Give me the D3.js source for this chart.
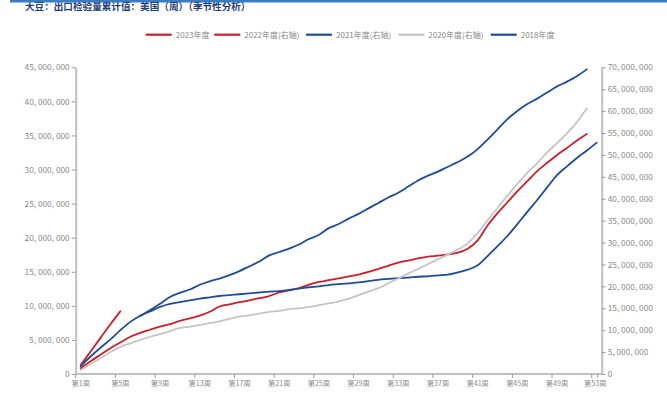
<!DOCTYPE html>
<html>
<head>
<meta charset="utf-8">
<script src="https://cdn.jsdelivr.net/npm/d3@7"></script>
<style>
  html, body { margin: 0; padding: 0; background: #fff; }
  svg { display: block; font-family: "Noto Sans CJK SC", "Noto Sans", sans-serif; }
</style>
</head>
<body>
<svg id="chart" width="667" height="394"></svg>
<script>
// Weekly cumulative soybean export inspections, US (million tonnes)
const weeks = d3.range(1, 54);
const weekLabels = weeks.map(w => "第" + w + "周");

// left axis series
const s2023 = [1.3, 3.3, 5.3, 7.3, 9.2];
const s2018Start = 7;
const s2018 = [8.5, 9.4, 10.3, 11.3, 11.9, 12.4, 13.1, 13.6, 14.0, 14.5, 15.1, 15.8, 16.5, 17.4,
  17.9, 18.4, 19.0, 19.8, 20.4, 21.4, 22.0, 22.8, 23.5, 24.3, 25.1, 25.9, 26.6, 27.5, 28.4,
  29.1, 29.7, 30.4, 31.1, 31.9, 33.0, 34.4, 35.9, 37.4, 38.6, 39.6, 40.4, 41.3, 42.2, 42.9,
  43.7, 44.7];

// right axis series
const s2022 = [1.3, 2.9, 4.4, 5.9, 7.2, 8.5, 9.4, 10.1, 10.8, 11.4, 12.1, 12.7, 13.3, 14.2, 15.4,
  15.9, 16.4, 16.8, 17.3, 17.8, 18.6, 19.1, 19.6, 20.4, 21.0, 21.4, 21.8, 22.3, 22.7, 23.3,
  24.0, 24.7, 25.4, 25.9, 26.4, 26.8, 27.0, 27.3, 27.7, 28.6, 30.5, 33.9, 36.7, 39.2, 41.7,
  44.0, 46.3, 48.2, 50.0, 51.6, 53.3, 54.8];
const s2021 = [1.8, 4.0, 6.0, 7.9, 10.0, 11.9, 13.3, 14.3, 15.3, 16.0, 16.4, 16.8, 17.2, 17.5,
  17.8, 18.0, 18.2, 18.4, 18.6, 18.8, 18.9, 19.2, 19.5, 19.8, 20.0, 20.3, 20.5, 20.7, 20.9,
  21.2, 21.5, 21.7, 21.9, 22.0, 22.2, 22.3, 22.5, 22.7, 23.2, 23.8, 24.8, 26.9, 29.2, 31.5,
  34.2, 37.0, 39.7, 42.6, 45.4, 47.4, 49.3, 51.0, 52.8];
const s2020 = [0.9, 2.3, 3.6, 5.0, 6.2, 7.0, 7.8, 8.5, 9.1, 9.8, 10.5, 10.8, 11.2, 11.6, 12.0,
  12.6, 13.1, 13.4, 13.8, 14.2, 14.4, 14.8, 15.0, 15.3, 15.7, 16.1, 16.6, 17.2, 18.0, 18.8,
  19.6, 20.7, 21.8, 22.9, 24.0, 25.1, 26.2, 27.3, 28.4, 29.8, 32.2, 35.1, 37.9, 40.7, 43.4,
  45.9, 48.1, 50.6, 52.7, 54.9, 57.5, 60.6];

const leftTicks = d3.range(0, 46, 5);
const rightTicks = d3.range(0, 71, 5);

const RED = "#c8202b", BLUE = "#1f4c97", GRAY = "#c4c4c4";

const series = [
  { name: "2023年度", values: s2023, start: 1, axis: "L", color: RED },
  { name: "2022年度(右轴)", values: s2022, start: 1, axis: "R", color: RED },
  { name: "2021年度(右轴)", values: s2021, start: 1, axis: "R", color: BLUE },
  { name: "2020年度(右轴)", values: s2020, start: 1, axis: "R", color: GRAY },
  { name: "2018年度", values: s2018, start: s2018Start, axis: "L", color: BLUE }
];

const svg = d3.select("#chart");
const plotLeft = 75.7, plotRight = 601.7, plotTop = 67.3, plotBottom = 374;

const x = d3.scaleBand().domain(weeks).range([plotLeft, plotRight]).padding(0);
const bw = x.bandwidth();
const cx = w => x(w) + bw / 2;
const yL = d3.scaleLinear().domain([0, 45]).range([plotBottom, plotTop]);
const yR = d3.scaleLinear().domain([0, 70]).range([plotBottom, plotTop]);

const fmt = v => v === 0 ? "0" : d3.format(",")(v * 1e6).replace(/,/g, ", ");

// header rule and title
svg.append("rect").attr("x", 10).attr("y", 0).attr("width", 657).attr("height", 2.5).attr("fill", "#3a7cc4");
svg.append("text").attr("x", 25).attr("y", 10)
  .attr("font-size", 9.6).attr("font-weight", "bold").attr("fill", "#1f3f7a")
  .text("大豆：出口检验量累计值：美国（周）（季节性分析）");

// legend
const legendX = [145.7, 214.3, 306, 398.3, 490.7];
const lg = svg.append("g").attr("class", "legend");
series.forEach((s, i) => {
  const g = lg.append("g").attr("transform", `translate(${legendX[i]},34.7)`);
  g.append("line").attr("x1", 0).attr("x2", 26).attr("y1", 0).attr("y2", 0)
    .attr("stroke", s.color).attr("stroke-width", 2.2);
  g.append("text").attr("x", 30).attr("y", 2.8).attr("font-size", 8).attr("fill", "#8a8a8a").text(s.name);
});

const AXIS = "#c0c0c0", LABEL = "#8a8a8a";

function styleAxis(g) {
  g.select(".domain").attr("stroke", AXIS).attr("stroke-width", 2);
  g.selectAll(".tick line").attr("stroke", "#9a9a9a").attr("stroke-width", 1);
  g.selectAll(".tick text").attr("fill", LABEL).attr("font-size", 8.3)
    .attr("font-family", "\"Noto Sans CJK SC\", sans-serif");
}

// left axis
svg.append("g").attr("transform", `translate(${plotLeft},0)`)
  .call(d3.axisLeft(yL).tickValues(leftTicks).tickSize(4).tickSizeOuter(0).tickPadding(2).tickFormat(fmt))
  .call(styleAxis);

// right axis
svg.append("g").attr("transform", `translate(${plotRight},0)`)
  .call(d3.axisRight(yR).tickValues(rightTicks).tickSize(4).tickSizeOuter(0).tickPadding(2).tickFormat(fmt))
  .call(styleAxis);

// bottom axis: tick marks on category boundaries, labels centred on categories
const labelWeeks = weeks.filter(w => (w - 1) % 4 === 0);
const xb = svg.append("g").attr("transform", `translate(0,${plotBottom})`);
xb.append("line").attr("x1", plotLeft).attr("x2", plotRight).attr("y1", 0).attr("y2", 0)
  .attr("stroke", AXIS).attr("stroke-width", 2);
xb.selectAll("line.tk").data(labelWeeks.concat([54])).join("line").attr("class", "tk")
  .attr("x1", w => w === 54 ? plotRight - 4 : x(w)).attr("x2", w => w === 54 ? plotRight - 4 : x(w))
  .attr("y1", 0).attr("y2", 4).attr("stroke", "#9a9a9a");
xb.selectAll("text").data(labelWeeks).join("text")
  .attr("x", w => cx(w) - (w === 53 ? 1.5 : 0)).attr("y", 12).attr("text-anchor", "middle")
  .attr("fill", LABEL).attr("font-size", 7.2)
  .text(w => weekLabels[w - 1]);

// series lines
const plot = svg.append("g");
series.forEach(s => {
  const ys = s.axis === "L" ? yL : yR;
  const pts = s.values.map((v, i) => [cx(s.start + i), ys(v)]);
  plot.append("path")
    .attr("d", d3.line().curve(d3.curveMonotoneX)(pts))
    .attr("fill", "none").attr("stroke", s.color).attr("stroke-width", 1.8)
    .attr("stroke-linejoin", "round").attr("stroke-linecap", "round");
});
</script>
</body>
</html>
